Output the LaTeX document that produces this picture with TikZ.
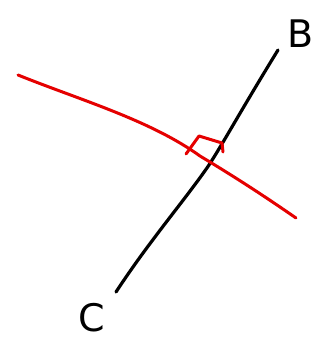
\documentclass[tikz,border=0pt]{standalone}
\usepackage{fontspec}
\setmainfont{DejaVu Sans}
\begin{document}
\begin{tikzpicture}[x=1pt,y=-1pt,
  blackline/.style={line width=3.2pt,black,line cap=round,line join=round},
  redline/.style={line width=3pt,red!90!black,line cap=round,line join=round},
  lbl/.style={font=\fontsize{38}{38}\selectfont,inner sep=0pt}]
\useasboundingbox[fill=white] (0,0) rectangle (327,342);
\coordinate (b1) at (278,50);
\coordinate (b2) at (116,292);
\draw[blackline] (b1) .. controls (240,112) and (225,140) .. (209,165)
  .. controls (185,200) and (150,240) .. (b2);
\coordinate (r1) at (18,75);
\coordinate (r2) at (296,218);
\draw[redline] (r1) .. controls (80,100) and (150,120) .. (200,156)
  .. controls (240,180) and (270,200) .. (r2);
\coordinate (m1) at (186,154);
\coordinate (m2) at (199,136);
\coordinate (m3) at (222,143);
\coordinate (m4) at (223,152);
\draw[redline] (m1) -- (m2) -- (m3) -- (m4);
\node[lbl] (B) at (301,34) {B};
\node[lbl] (C) at (92,318) {C};
\end{tikzpicture}
\end{document}
